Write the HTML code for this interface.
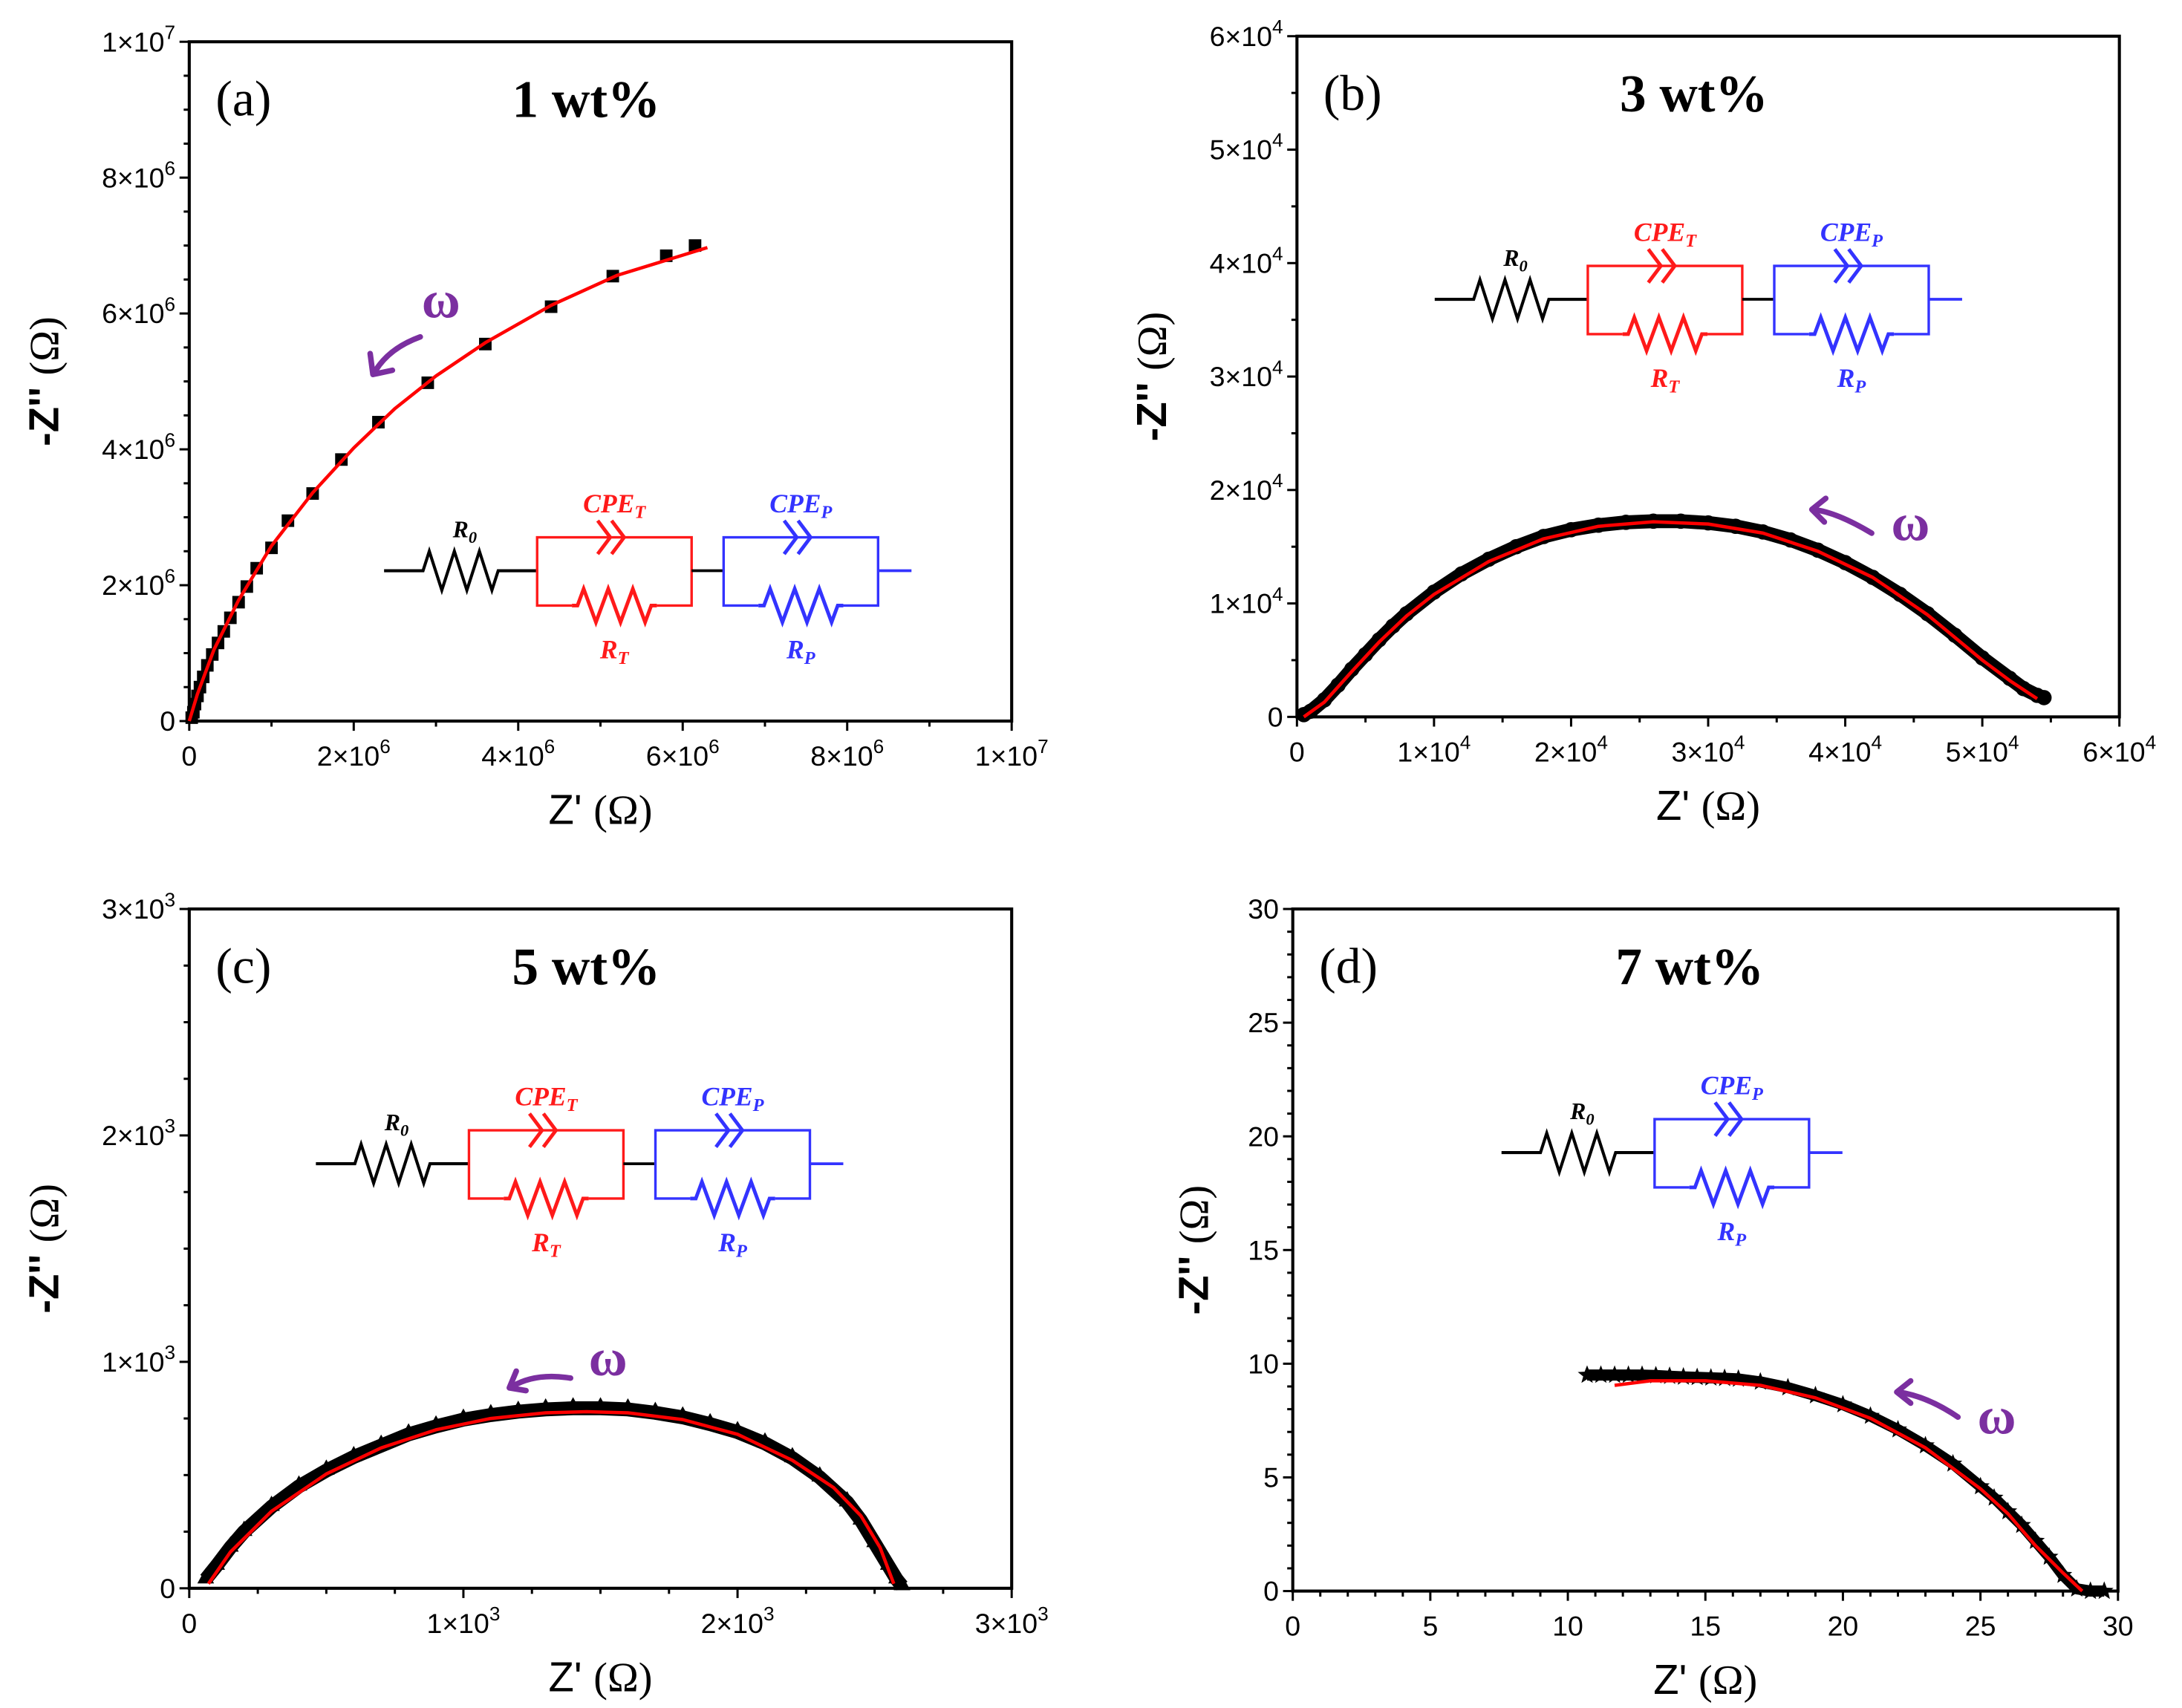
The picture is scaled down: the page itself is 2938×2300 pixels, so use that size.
<!DOCTYPE html>
<html><head><meta charset="utf-8"><style>
html,body{margin:0;padding:0;background:#fff}
svg{display:block}
</style></head><body>
<svg id="fig" xmlns="http://www.w3.org/2000/svg" width="2938" height="2300" viewBox="0 0 1568 1227" preserveAspectRatio="none" font-family="Liberation Sans, sans-serif"></svg>
<script>
// ---- Panel (a) data (units 1e6 Ohm) ----
const aX = [6.15,5.8,5.15,4.4,3.6,2.9,2.3,1.85,1.5,1.2,1.0,0.82,0.7,0.6,0.5,0.42,0.35,0.28,0.22,0.17,0.13,0.1,0.07,0.05,0.03];
const aY = [7.0,6.85,6.55,6.1,5.55,4.98,4.4,3.85,3.35,2.95,2.55,2.25,1.98,1.75,1.52,1.32,1.15,0.98,0.82,0.65,0.5,0.37,0.25,0.13,0.05];
const aFitX = [0,0.1,0.3,0.6,1.0,1.5,2.0,2.5,3.0,3.6,4.4,5.2,6.3];
const aFitY = [0,0.4,1.05,1.78,2.58,3.36,4.02,4.6,5.08,5.57,6.12,6.56,6.97];
// ---- Panel (b) data (units 1e3 Ohm) ----
const bX = [0.5,1,2,3,4,5,6,7,8,10,12,14,16,18,20,22,24,26,28,30,32,34,36,38,40,42,44,46,48,50,52,53,54,54.5];
const bY = [0.2,0.5,1.5,2.8,4.2,5.5,6.8,8,9.1,11,12.6,13.9,15,15.9,16.5,16.9,17.15,17.25,17.25,17.1,16.8,16.3,15.6,14.7,13.6,12.3,10.8,9.1,7.2,5.2,3.4,2.5,1.9,1.7];
const bFitX = [0.5,2,4,6,8,10,14,18,22,26,30,34,38,42,46,50,52,54];
const bFitY = [0,1.3,4.0,6.6,8.9,10.8,13.7,15.7,16.8,17.2,17.0,16.2,14.6,12.3,9.0,5.0,3.2,1.6];
// ---- Panel (c) data (Ohm) ----
const cX = [60,100,150,200,300,400,500,600,700,800,900,1000,1100,1200,1300,1400,1500,1600,1700,1800,1900,2000,2100,2200,2300,2400,2450,2500,2550,2580,2600];
const cY = [40,100,180,250,360,450,520,580,630,680,715,745,765,780,790,795,795,790,775,755,725,690,640,575,490,380,300,200,100,40,10];
const cFitX = [70,150,300,500,700,900,1100,1300,1450,1600,1800,2000,2200,2350,2450,2520,2570];
const cFitY = [20,160,340,505,620,700,750,775,780,775,745,680,565,445,320,180,20];
// ---- Panel (d) data (Ohm) ----
const dX = [10.7,11.2,11.7,12.2,12.7,13.2,13.7,14.2,14.7,15.2,15.7,16.2,17,18,19,20,21,22,23,24,25,25.5,26,26.5,27,27.5,28,28.5,29,29.5];
const dY = [9.5,9.5,9.5,9.5,9.5,9.48,9.45,9.42,9.4,9.38,9.36,9.33,9.2,8.95,8.6,8.2,7.7,7.1,6.4,5.6,4.6,4.1,3.5,2.9,2.2,1.5,0.7,0.1,0,0];
const dFitX = [11.7,13,15,17,19,21,23,25,26,27,28,28.7];
const dFitY = [9.05,9.25,9.25,9.05,8.5,7.6,6.3,4.5,3.4,2.0,0.8,0];

const NS = "http://www.w3.org/2000/svg";
const svg = document.getElementById('fig');
const SERIF = 'Liberation Serif, serif';
function el(tag, attrs, parent){const e=document.createElementNS(NS,tag);for(const k in attrs)e.setAttribute(k,attrs[k]);(parent||svg).appendChild(e);return e;}

function sciLabel(g, x, y, v, exp, anchor){
  const t = el('text',{x:x,y:y,'font-size':20,'text-anchor':anchor,fill:'#000'},g);
  
  
  if(v===0){t.textContent='0';return t;}
  if(v===10){v=1;exp=String(Number(exp)+1);}
  const m=el('tspan',{},t); m.textContent=v+'×10';
  const s=el('tspan',{'font-size':14,dy:-9},t); s.textContent=exp;
  return t;
}

function panel(cfg){
  const g = el('g',{});
  
  
  const {x0,x1,y0,y1,xmax,ymax}=cfg;
  const sx = v => x0 + v/xmax*(x1-x0);
  const sy = v => y1 - v/ymax*(y1-y0);
  const fr = el('rect',{x:x0,y:y0,width:x1-x0,height:y1-y0,fill:'none',stroke:'#000','stroke-width':2.2},g);
  
  
  for(let v=0; v<=xmax+1e-9; v+=cfg.xminor){
    const major = Math.abs(v/cfg.xmajor - Math.round(v/cfg.xmajor))<1e-6;
    el('line',{x1:sx(v),x2:sx(v),y1:y1,y2:y1+(major?7:4),stroke:'#000','stroke-width':1.6},g);
    if(major){
      const k=Math.round(v/cfg.xmajor)*cfg.xmajorMul;
      if(cfg.exp) sciLabel(g,sx(v),y1+32,k,cfg.exp,'middle');
      else{const t=el('text',{x:sx(v),y:y1+32,'font-size':20,'text-anchor':'middle'},g);t.textContent=String(k);
        }
    }
  }
  for(let v=0; v<=ymax+1e-9; v+=cfg.yminor){
    const major = Math.abs(v/cfg.ymajor - Math.round(v/cfg.ymajor))<1e-6;
    el('line',{x1:x0,x2:x0-(major?7:4),y1:sy(v),y2:sy(v),stroke:'#000','stroke-width':1.6},g);
    if(major){
      const k=Math.round(v/cfg.ymajor)*cfg.ymajorMul;
      if(cfg.exp) sciLabel(g,x0-10,sy(v)+7,k,cfg.exp,'end');
      else{const t=el('text',{x:x0-10,y:sy(v)+7,'font-size':20,'text-anchor':'end'},g);t.textContent=String(k);
        }
    }
  }
  const xt = el('text',{x:(x0+x1)/2,y:y1+74,'font-size':30,'text-anchor':'middle'},g);
  
  
  xt.innerHTML = 'Z\' <tspan font-family="Liberation Serif, serif">(Ω)</tspan>';
  const yt = el('text',{x:0,y:0,'font-size':30,'text-anchor':'middle',transform:`translate(${cfg.ytx},${(y0+y1)/2}) rotate(-90)`},g);
  
  
  yt.innerHTML = '<tspan font-weight="bold">-Z\'\'</tspan> <tspan font-family="Liberation Serif, serif">(Ω)</tspan>';
  const pl = el('text',{x:x0+19,y:y0+53,'font-size':36,'font-family':SERIF},g);
  
  
  pl.textContent='('+cfg.id+')';
  const tt = el('text',{x:x0+232,y:y0+54,'font-size':38,'font-weight':'bold','font-family':SERIF},g);
  
  
  tt.textContent=cfg.title;
  const dg = el('g',{},g);
  
  
  if(cfg.dense){
    const pts = cfg.X.map((v,i)=>sx(v)+','+sy(cfg.Y[i])).join(' ');
    el('polyline',{points:pts,fill:'none',stroke:'#000','stroke-width':cfg.dense,'stroke-linejoin':'round'},dg);
  }
  cfg.X.forEach((v,i)=>{
    const px=sx(v), py=sy(cfg.Y[i]); let m;
    if(cfg.marker==='square') m=el('rect',{x:px-4.5,y:py-4.5,width:9,height:9,fill:'#000'},dg);
    else if(cfg.marker==='circle') m=el('circle',{cx:px,cy:py,r:5.5,fill:'#000'},dg);
    else if(cfg.marker==='tri') m=el('polygon',{points:`${px},${py-8} ${px-6},${py+3} ${px+6},${py+3}`,fill:'#000'},dg);
    else { let p=[];for(let k=0;k<10;k++){const r=k%2?3:7;const a=-Math.PI/2+k*Math.PI/5;p.push((px+r*Math.cos(a)).toFixed(1)+','+(py+r*Math.sin(a)).toFixed(1));}
      m=el('polygon',{points:p.join(' '),fill:'#000'},dg);}
    
    
  });
  const fit = el('polyline',{points:cfg.FX.map((v,i)=>sx(v)+','+sy(cfg.FY[i])).join(' '),fill:'none',stroke:'#f00','stroke-width':2.4,'stroke-linejoin':'round'},g);
  
  
  const o=cfg.omega;
  const om = el('text',{x:o[0],y:o[1],'font-size':38,'font-weight':'bold','font-family':SERIF,fill:'#7b2fa0'},g);
  
  
  om.textContent='ω';
  const ar = el('path',{d:o[2],fill:'none',stroke:'#7b2fa0','stroke-width':4,'stroke-linecap':'round'},g);
  
  
  const ah = el('path',{d:o[3],fill:'none',stroke:'#7b2fa0','stroke-width':4,'stroke-linecap':'round','stroke-linejoin':'round'},g);
  
  
  circuit(g, cfg.circ[0], cfg.circ[1], cfg.circ[2]);
}

function zig(x, y, w, h){
  const n=6, s=(w-8)/n; let d=`M${x},${y} L${x+4},${y}`;
  for(let i=0;i<n;i++){d+=` L${x+4+s*(i+0.5)},${y+(i%2?h:-h)}`;}
  d+=` L${x+w-4},${y} L${x+w},${y}`; return d;
}
function cpe(cx, y, color, g){
  el('path',{d:`M${cx-12},${y-12} L${cx-3},${y} L${cx-12},${y+12} M${cx-2},${y-12} L${cx+7},${y} L${cx-2},${y+12}`,fill:'none',stroke:color,'stroke-width':2.6},g);
}
function box(g,bx,y,color,sub){
  const top=y-24,bot=y+25,w=111;
  el('path',{d:`M${bx},${y} L${bx},${top} L${bx+w},${top} L${bx+w},${y} M${bx},${y} L${bx},${bot} L${bx+25},${bot} M${bx+w-25},${bot} L${bx+w},${bot} L${bx+w},${y}`,fill:'none',stroke:color,'stroke-width':1.8},g);
  el('path',{d:zig(bx+25,bot,w-50,12),fill:'none',stroke:color,'stroke-width':2.6},g);
  cpe(bx+w/2,top,color,g);
  const t1=el('text',{x:bx+w/2,y:top-18,'font-size':19,'font-style':'italic','font-weight':'bold','font-family':SERIF,fill:color,'text-anchor':'middle'},g);
  t1.innerHTML=`CPE<tspan font-size="13" dy="4">${sub}</tspan>`;
  const t2=el('text',{x:bx+w/2,y:bot+38,'font-size':19,'font-style':'italic','font-weight':'bold','font-family':SERIF,fill:color,'text-anchor':'middle'},g);
  t2.innerHTML=`R<tspan font-size="13" dy="4">${sub}</tspan>`;
}
function circuit(parent, x, y, two){
  const g=el('g',{},parent);
  
  
  el('path',{d:`M${x},${y} L${x+24},${y}`+zig(x+24,y,62,14).replace('M',' M')+` M${x+86},${y} L${x+110},${y}`,fill:'none',stroke:'#000','stroke-width':2.2},g);
  const r0=el('text',{x:x+58,y:y-24,'font-size':17,'font-style':'italic','font-weight':'bold','font-family':SERIF,'text-anchor':'middle'},g);
  r0.innerHTML='R<tspan font-size="12" dy="4">0</tspan>';
  let bx=x+110;
  if(two){
    box(g,bx,y,'#ff1a1a','T');
    el('line',{x1:bx+111,x2:bx+134,y1:y,y2:y,stroke:'#000','stroke-width':2},g);
    bx+=134;
  }
  box(g,bx,y,'#3333ff','P');
  el('line',{x1:bx+111,x2:bx+135,y1:y,y2:y,stroke:'#3333ff','stroke-width':2},g);
}

panel({id:'a',title:'1 wt%',x0:136,x1:727,y0:30,y1:518,xmax:10,ymax:10,xminor:1,xmajor:2,xmajorMul:2,yminor:0.5,ymajor:2,ymajorMul:2,exp:'6',ytx:42,
  X:aX,Y:aY,FX:aFitX,FY:aFitY,marker:'square',
  omega:[303,228,'M302,242 Q280,250 270,266','M266,254 L268,269 L282,266'],circ:[276,410,true]});
panel({id:'b',title:'3 wt%',x0:932,x1:1523,y0:26,y1:515,xmax:60,ymax:60,xminor:5,xmajor:10,xmajorMul:1,yminor:5,ymajor:10,ymajorMul:1,exp:'4',ytx:838,
  X:bX,Y:bY,FX:bFitX,FY:bFitY,marker:'circle',dense:10,
  omega:[1359,388,'M1345,383 Q1320,368 1303,366','M1312,358 L1302,366 L1311,375'],circ:[1031,215,true]});
panel({id:'c',title:'5 wt%',x0:136,x1:727,y0:653,y1:1141,xmax:3000,ymax:3000,xminor:250,xmajor:1000,xmajorMul:1,yminor:250,ymajor:1000,ymajorMul:1,exp:'3',ytx:42,
  X:cX,Y:cY,FX:cFitX,FY:cFitY,marker:'tri',dense:10,
  omega:[423,988,'M410,990 Q385,986 368,996','M371,985 L366,997 L378,999'],circ:[227,836,true]});
panel({id:'d',title:'7 wt%',x0:929,x1:1522,y0:653,y1:1143,xmax:30,ymax:30,xminor:1,xmajor:5,xmajorMul:5,yminor:1,ymajor:5,ymajorMul:5,exp:null,ytx:868,
  X:dX,Y:dY,FX:dFitX,FY:dFitY,marker:'star',dense:8,
  omega:[1421,1030,'M1407,1018 Q1385,1003 1364,1000','M1373,992 L1363,1000 L1373,1008'],circ:[1079,828,false]});
</script>
</body></html>
